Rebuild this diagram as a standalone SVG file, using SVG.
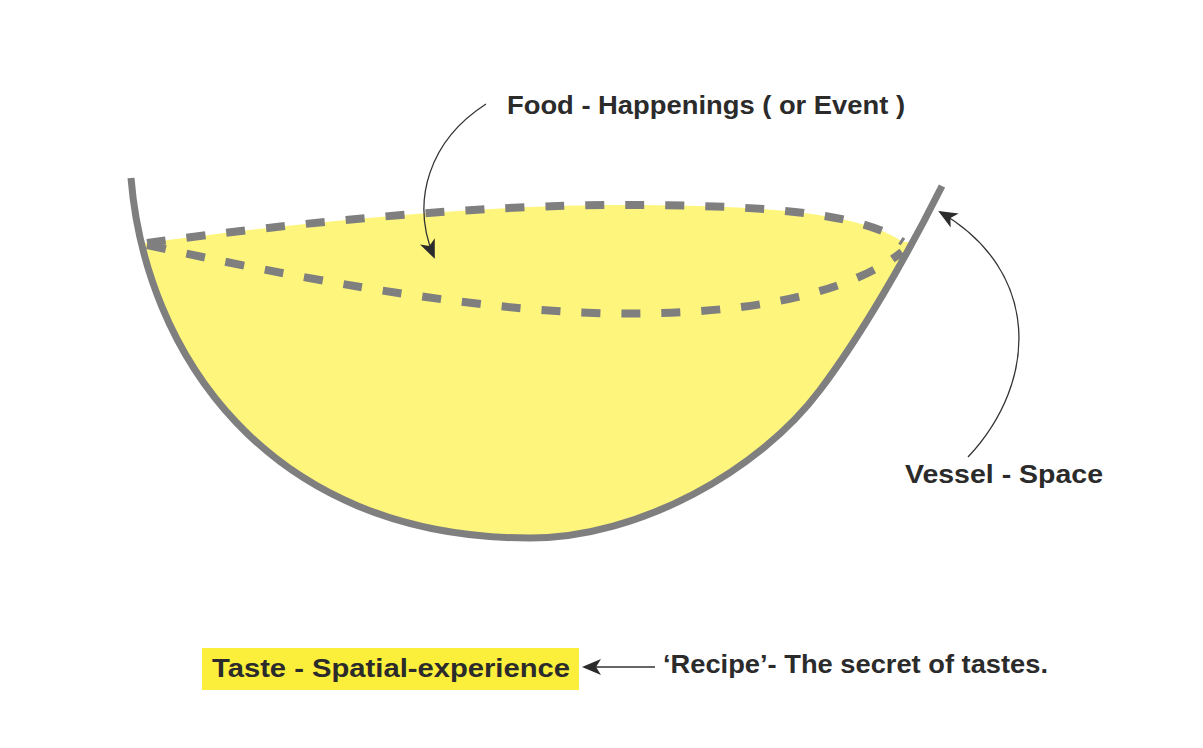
<svg xmlns="http://www.w3.org/2000/svg" width="1203" height="748" viewBox="0 0 1203 748">
<style>
.lbl{font-family:"Liberation Sans",Arial,sans-serif;font-weight:bold;font-size:26px;fill:#2b2b2b}
.bowl{fill:none;stroke:#7f7f7f;stroke-width:7;stroke-linecap:butt}
.dash{fill:none;stroke:#7f7f7f;stroke-width:8;stroke-dasharray:19 21}
.conn{fill:none;stroke:#333;stroke-width:1.3}
</style>
<defs>
<marker id="ah" viewBox="0 0 20 20" refX="18" refY="10" markerWidth="20" markerHeight="20" markerUnits="userSpaceOnUse" orient="auto">
<path d="M20,10 L1,2 L6,10 L1,18 Z" fill="#2b2b2b"/>
</marker>
<clipPath id="bowlClip">
<path d="M131,178 C145,350 265,538 530,538 C640,538 760,470 820,390 C860,337 905,260 942,186 Z"/>
</clipPath>
</defs>
<rect width="1203" height="748" fill="#fff"/>
<g id="vessel">
<path d="M100,243 L147,243 C300,222 480,205 620,205 C760,205 860,212 903,242 L990,242 L990,600 L100,600 Z" fill="#fdf57c" clip-path="url(#bowlClip)"/>
<path class="bowl" d="M131,178 C145,350 265,538 530,538 C640,538 760,470 820,390 C860,337 905,260 942,186"/>
</g>
<g id="food">
<path class="dash" d="M147,243 C300,222 480,205 620,205 C760,205 860,212 903,242"/>
<path class="dash" d="M147,245 C350,290 530,318 660,313 C780,310 860,285 902,252"/>
</g>
<g id="connectors">
<path class="conn" d="M486,104 C430,140 410,200 434,257" marker-end="url(#ah)"/>
<path class="conn" d="M968,457 C1040,380 1040,270 940,212" marker-end="url(#ah)"/>
<path class="conn" d="M655,667 L584,667" marker-end="url(#ah)"/>
</g>
<g id="label-food">
<text class="lbl" x="507" y="114" textLength="398" lengthAdjust="spacingAndGlyphs">Food - Happenings ( or Event )</text>
</g>
<g id="label-vessel">
<text class="lbl" x="905" y="483" textLength="198" lengthAdjust="spacingAndGlyphs">Vessel - Space</text>
</g>
<g id="label-taste">
<rect x="202" y="648" width="377" height="42" fill="#fbef3c"/>
<text class="lbl" x="212" y="677" textLength="358" lengthAdjust="spacingAndGlyphs">Taste - Spatial-experience</text>
</g>
<g id="label-recipe">
<text class="lbl" x="663" y="673" textLength="385" lengthAdjust="spacingAndGlyphs">‘Recipe’- The secret of tastes.</text>
</g>
</svg>
